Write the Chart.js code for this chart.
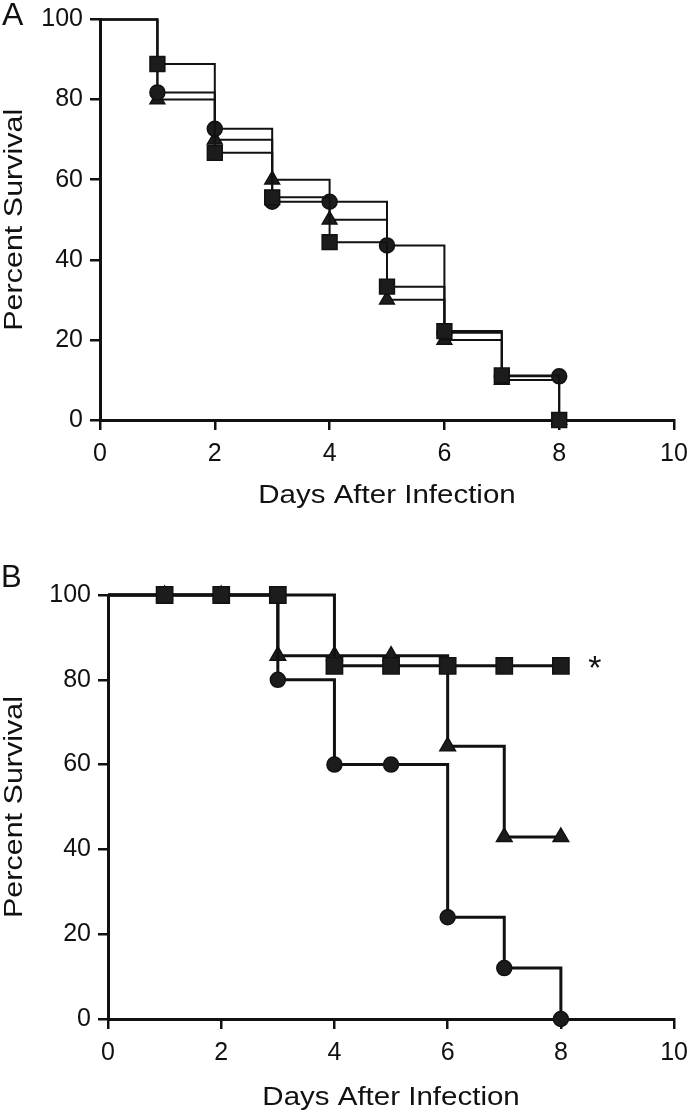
<!DOCTYPE html>
<html>
<head>
<meta charset="utf-8">
<script src="https://cdn.jsdelivr.net/npm/chart.js@4.4.1/dist/chart.umd.min.js"></script>
<style>
  html, body { margin: 0; padding: 0; background: #fff; }
  #wrap { position: relative; width: 700px; height: 1114px; }
  canvas { position: absolute; left: 0; }
  #chartA { top: 0; }
  #chartB { top: 540px; }
</style>
</head>
<body>
<div id="wrap">
  <canvas id="chartA" width="700" height="540"></canvas>
  <canvas id="chartB" width="700" height="574"></canvas>
</div>
<script>
const days = [0, 1, 2, 3, 4, 5, 6, 7, 8]
const xTicks = [0, 2, 4, 6, 8, 10]
const yTicks = [0, 20, 40, 60, 80, 100]

// panel A
const squareA = [100, 88.9, 66.7, 55.6, 44.4, 33.3, 22.2, 11.1, 0]
const circleA = [100, 81.8, 72.7, 54.5, 54.5, 43.6, 21.8, 10.9, 10.9]
const triangleA = [100, 80, 70, 60, 50, 30, 20, 10, 0]

// panel B
const squareB = [100, 100, 100, 100, 83.3, 83.3, 83.3, 83.3, 83.3]
const circleB = [100, 100, 100, 80, 60, 60, 24, 12, 0]
const triangleB = [100, 100, 100, 85.7, 85.7, 85.7, 64.3, 42.9, 42.9]

const xTitle = "Days After Infection"
const yTitle = "Percent Survival"
const starNote = { text: "*", day: 8.6, percent: 85 }

const INK = "#111"
const FONT = '"Liberation Sans", Arial, sans-serif'

const toPoints = values => values.map((v, i) => ({ x: days[i], y: v }))

const series = (values, style, radius, width) => ({
    data: toPoints(values),
    stepped: "before",
    borderColor: INK,
    borderWidth: width,
    backgroundColor: INK,
    fill: false,
    clip: false,
    pointStyle: style,
    pointRadius: ctx => ctx.dataIndex === 0 ? 0 : radius,
    pointHoverRadius: ctx => ctx.dataIndex === 0 ? 0 : radius,
    pointBorderWidth: 1.5,
    pointBorderColor: INK,
    pointBackgroundColor: "#1c1c1c"
})

const axisGrid = {
    drawOnChartArea: false,
    drawTicks: true,
    tickLength: 10,
    tickWidth: 2.5,
    tickColor: INK,
    lineWidth: 2.5,
    color: INK
}

const tickFont = { family: FONT, size: 25, lineHeight: 1 }

const buildScales = (yWidth, xHeight) => ({
    x: {
        type: "linear",
        min: 0,
        max: 10,
        afterBuildTicks: scale => { scale.ticks = xTicks.map(value => ({ value })) },
        afterFit: scale => { scale.height = xHeight },
        grid: axisGrid,
        border: { display: true, color: INK, width: 3 },
        ticks: { color: INK, padding: 12, maxRotation: 0, autoSkip: false, font: tickFont }
    },
    y: {
        type: "linear",
        min: 0,
        max: 100,
        afterBuildTicks: scale => { scale.ticks = yTicks.map(value => ({ value })) },
        afterFit: scale => { scale.width = yWidth },
        grid: axisGrid,
        border: { display: true, color: INK, width: 3 },
        ticks: { color: INK, padding: 7, autoSkip: false, font: tickFont }
    }
})

// titles are drawn stretched, the way they look in the figure
const panelDecor = {
    id: "panelDecor",
    afterDraw(chart, args, opts) {
        const { ctx, chartArea: area } = chart
        ctx.save()
        ctx.fillStyle = INK
        ctx.textBaseline = "alphabetic"
        ctx.textAlign = "center"
        ctx.font = "25px " + FONT

        ctx.save()
        ctx.translate((area.left + area.right) / 2, area.bottom + opts.xTitleDrop)
        ctx.scale(1.18, 1)
        ctx.fillText(xTitle, 0, 0)
        ctx.restore()

        ctx.save()
        ctx.translate(opts.yTitleX, (area.top + area.bottom) / 2)
        ctx.rotate(-Math.PI / 2)
        ctx.scale(1.22, 1)
        ctx.fillText(yTitle, 0, 0)
        ctx.restore()

        ctx.textAlign = "left"
        ctx.font = opts.letterSize + "px " + FONT
        ctx.fillText(opts.letter, opts.letterX, opts.letterY)

        if (opts.note) {
            const x = chart.scales.x.getPixelForValue(opts.note.day)
            const y = chart.scales.y.getPixelForValue(opts.note.percent)
            ctx.textAlign = "center"
            ctx.font = "34px " + FONT
            ctx.fillText(opts.note.text, x, y + 20)
        }
        ctx.restore()
    }
}

const buildChart = (id, datasets, layout, decor) => new Chart(document.getElementById(id), {
    type: "line",
    data: { datasets },
    options: {
        responsive: false,
        animation: false,
        devicePixelRatio: 1,
        layout: { padding: layout.padding },
        plugins: { legend: { display: false }, tooltip: { enabled: false }, panelDecor: decor },
        scales: buildScales(layout.yWidth, layout.xHeight)
    },
    plugins: [panelDecor]
})

buildChart("chartA", [
    series(squareA, "rect", 10.5, 2),
    series(circleA, "circle", 7.5, 2),
    series(triangleA, "triangle", 8.5, 2)
], {
    padding: { top: 13, right: 26, bottom: 0, left: 0 },
    yWidth: 100,
    xHeight: 120
}, { letter: "A", letterSize: 32, letterX: 2, letterY: 25, xTitleDrop: 83, yTitleX: 22 })

buildChart("chartB", [
    series(squareB, "rect", 11.5, 3),
    series(circleB, "circle", 7.5, 3),
    series(triangleB, "triangle", 9, 3)
], {
    padding: { top: 55, right: 14, bottom: 0, left: 0 },
    yWidth: 108,
    xHeight: 95
}, { letter: "B", letterSize: 31, letterX: 1, letterY: 47, xTitleDrop: 86, yTitleX: 22, note: starNote })
</script>
</body>
</html>
